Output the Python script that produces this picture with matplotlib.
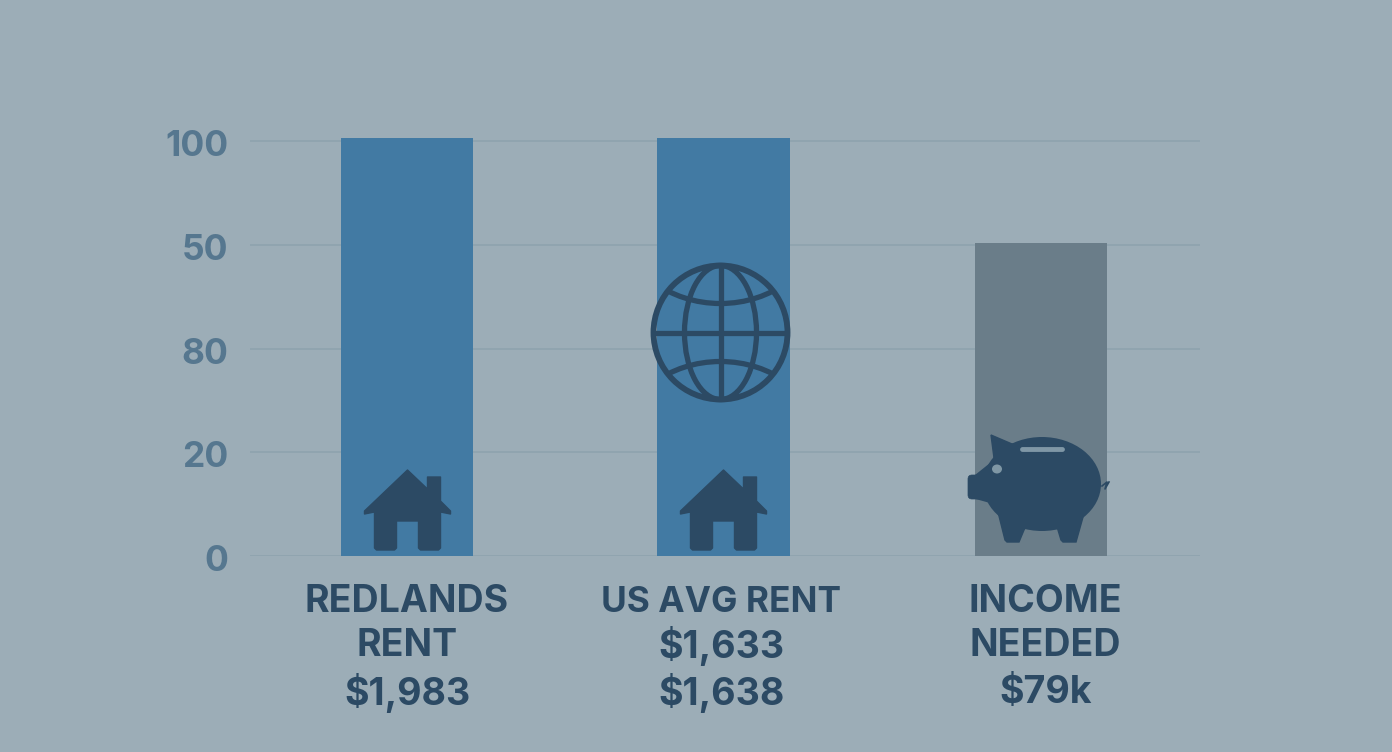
import numpy as np
import matplotlib
matplotlib.use("Agg")
import matplotlib.pyplot as plt
from matplotlib.patches import Circle, Ellipse, Polygon, FancyBboxPatch
from matplotlib.transforms import ScaledTranslation

# data
tick_labels = ["0", "20", "80", "50", "100"]  # printed order on the picture
tick_slots = [0, 1, 2, 3, 4]
bar_heights = [4.03, 4.03, 3.02]  # in tick slots
bar_slots = [0, 0.999, 2.002]
bar_kinds = ["blue", "blue", "grey"]
label_line1 = ["REDLANDS", "US AVG RENT", "INCOME"]
label_line2 = ["RENT", "$1,633", "NEEDED"]
label_line3 = ["$1,983", "$1,638", "$79k"]

#colors
BG = "#9cadb7"
BLUE = "#427aa3"
GREY = "#6a7d89"
DARK = "#2c4a64"
TICK = "#56778f"
GRID = "#90a4af"
FONT = "Inter"

W, H = 1392, 752
fig = plt.figure(figsize=(W / 100, H / 100), dpi=100, facecolor=BG)

# main axes, 250-1200 px wide, zero line at y=556
ax = fig.add_axes([250 / W, 1 - 556 / H, 950 / W, 426 / H])
ax.set_facecolor("none")
UNIT_X = 316.75
ax.set_xlim((250 - 407) / UNIT_X, (1200 - 407) / UNIT_X)
ax.set_ylim(0, 426 / 103.75)
for s in ax.spines.values():
    s.set_visible(False)

ax.set_yticks(tick_slots)
ax.set_yticklabels(tick_labels, fontsize=25.5, fontweight="bold", color=TICK, family=FONT)
ax.tick_params(axis="y", length=0, pad=15.5)
# labels sit a little under their gridline
down = ScaledTranslation(0, -2 / 100, fig.dpi_scale_trans)
for t in ax.get_yticklabels():
    t.set_transform(t.get_transform() + down)
ax.set_xticks([])
ax.grid(axis="y", color=GRID, lw=1.4)
ax.set_axisbelow(True)

colors = {"blue": BLUE, "grey": GREY}
ax.bar(bar_slots, bar_heights, width=132.5 / UNIT_X, color=[colors[k] for k in bar_kinds], zorder=2)

# the three lines under each bar have uneven spacing so they go one by one
trans = ax.get_xaxis_transform()
for x, a, b, c, dx in zip(bar_slots, label_line1, label_line2, label_line3, (0, -2, 4)):
    for txt, y_px in zip((a, b, c), (602, 646, 693)):
        size = 25.4 if txt == "US AVG RENT" else 27
        ax.text(x + dx / UNIT_X, (556 - y_px) / 426, txt, transform=trans, ha="center", va="center",
                fontsize=size, fontweight="bold", color=DARK, family=FONT)

# icons on a pixel overlay
ov = fig.add_axes([0, 0, 1, 1])
ov.set_xlim(0, W)
ov.set_ylim(H, 0)
ov.axis("off")
ov.patch.set_alpha(0)


def house(cx):
    roof = [(0, 470), (20, 489), (20, 477), (33, 477), (33, 501), (43, 511), (43, 514),
            (33, 512), (33, 548), (31, 550), (13, 550), (11, 548), (11, 521), (-11, 521),
            (-11, 548), (-13, 550), (-31, 550), (-33, 548), (-33, 512), (-43, 514), (-43, 511)]
    ov.add_patch(Polygon([(cx + x, y) for x, y in roof], closed=True, fc=DARK, ec=DARK, lw=1, joinstyle="round"))


house(407.5)
house(723.5)

# globe
gx, gy, gr = 720.5, 332.5, 67
lw_g = 3.8
clip = Circle((gx, gy), gr, transform=ov.transData)
ov.add_patch(Circle((gx, gy), gr, fc="none", ec=DARK, lw=4.2))
ov.plot([gx, gx], [gy - gr, gy + gr], color=DARK, lw=lw_g, solid_capstyle="butt")
ov.plot([gx - gr, gx + gr], [gy, gy], color=DARK, lw=lw_g, solid_capstyle="butt")
ov.add_patch(Ellipse((gx, gy), 72, 2 * gr, fc="none", ec=DARK, lw=lw_g))
for sign in (-1, 1):
    arc = Ellipse((gx, gy + sign * 104), 190, 150, fc="none", ec=DARK, lw=lw_g)
    ov.add_patch(arc)
    arc.set_clip_path(clip)

# piggy bank
ov.add_patch(Ellipse((1042, 484), 118, 94, fc=DARK, ec="none"))
ov.add_patch(Polygon([(991, 435), (1012, 444), (1030, 445), (1000, 480), (994, 458)], closed=True, fc=DARK, ec=DARK, lw=1))
ov.add_patch(FancyBboxPatch((968, 475), 24, 24, boxstyle="round,pad=0,rounding_size=4", fc=DARK, ec=DARK, lw=0.5))
ov.add_patch(Polygon([(975, 475), (1000, 455), (1010, 510), (990, 503), (972, 498)], closed=True, fc=DARK, ec="none"))
ov.add_patch(Polygon([(998, 512), (1005, 540), (1007, 542), (1019, 542), (1024, 530), (1030, 520)], closed=True, fc=DARK, ec=DARK, lw=1))
ov.add_patch(Polygon([(1055, 520), (1061, 540), (1063, 542), (1076, 542), (1085, 510)], closed=True, fc=DARK, ec=DARK, lw=1))
ov.add_patch(Ellipse((997, 469), 10, 9, fc="#7f97a5", ec="none"))
ov.plot([1022, 1062], [448.5, 448.5], color="#7f97a6", lw=3.5, solid_capstyle="round")
ov.plot([1102, 1107, 1105, 1109], [486, 482, 489, 482], color=DARK, lw=1.2)

fig.savefig("out.png", dpi=100, facecolor=BG)
